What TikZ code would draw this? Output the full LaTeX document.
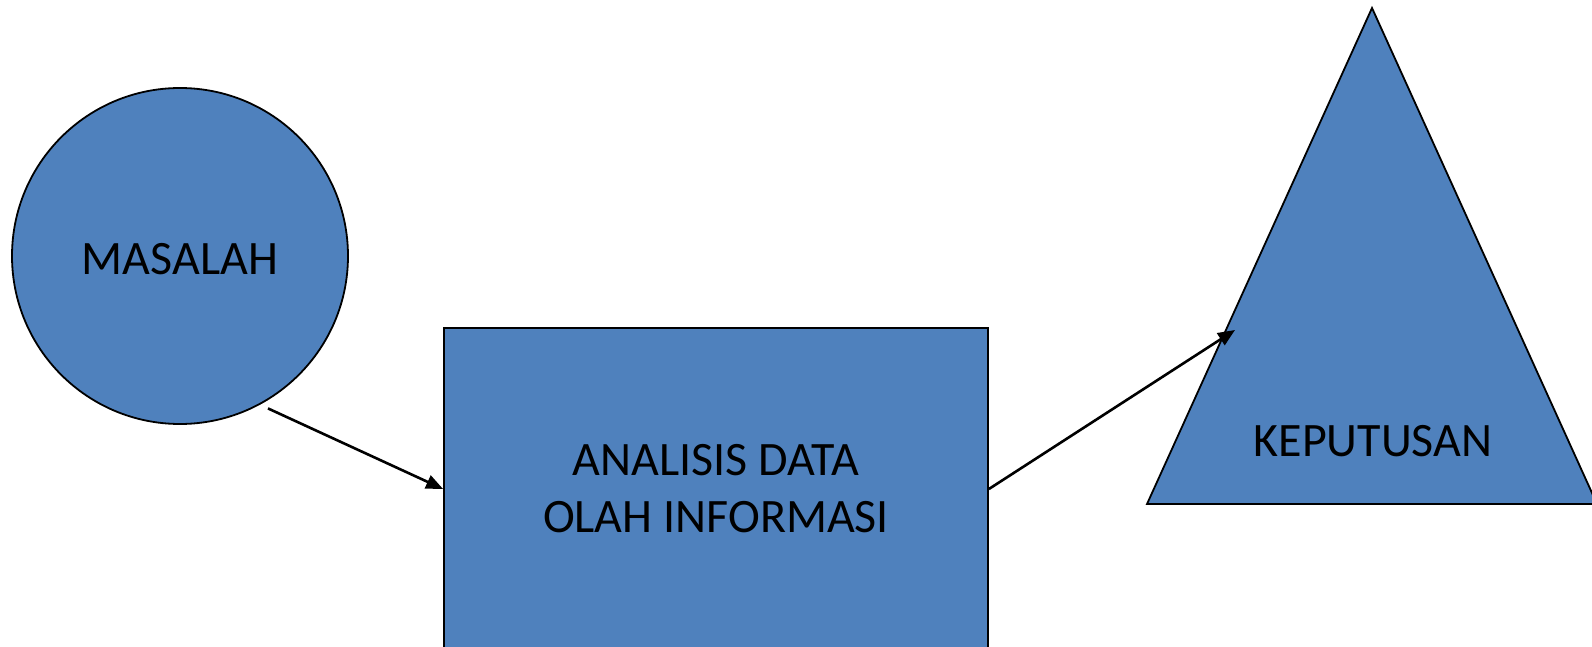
\documentclass[tikz,border=0pt]{standalone}
\usepackage{fontspec}
\setmainfont{Carlito}
\usetikzlibrary{arrows.meta, positioning, calc}
\definecolor{shapeblue}{RGB}{79,129,189}

\begin{document}
\begin{tikzpicture}[
    x=1pt, y=-1pt,
    font=\fontsize{48}{57}\selectfont,
    shp/.style={draw, fill=shapeblue, line width=1.8pt, inner sep=0pt},
    lbl/.style={align=center, inner sep=0pt},
    fl/.style={-{Triangle[length=17pt, width=14pt]}, line width=2.6pt}
]
\clip (0,0) rectangle (1592,647);

% ===== MASALAH =====
\node[shp, circle, minimum size=336pt, text height=37pt] (MASALAH) at (180,256) {MASALAH};
\coordinate (MOUT) at ([shift={(-60:176pt)}]MASALAH.center);

% ===== ANALISIS / OLAH =====
\node[shp, minimum width=544pt, minimum height=322pt, align=center] (ANALISIS) at (716,489)
  {ANALISIS DATA\\OLAH INFORMASI};

% ===== KEPUTUSAN (segitiga) =====
\coordinate (TOP) at (1372,8);
\coordinate (BL) at (1147,504);
\coordinate (BR) at (1597,504);
\draw[shp] (TOP) -- (BL) -- (BR) -- cycle;
\node[lbl] (KEP) at (1373,441) {KEPUTUSAN};
\coordinate (KEPIN) at (1235,330);

% panah
\draw[fl] (MOUT) -- (ANALISIS.west);
\draw[fl] (ANALISIS.east) -- (KEPIN);

\end{tikzpicture}
\end{document}
